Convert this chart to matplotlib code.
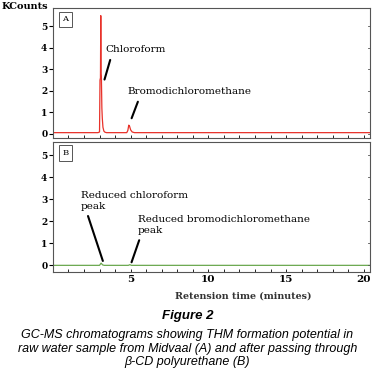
"""GC-MS chromatograms, THM formation potential (Figure 2 redraw)."""
import matplotlib
matplotlib.use("Agg")
import matplotlib.pyplot as plt
from matplotlib.ticker import MultipleLocator

# panel A: raw water (retention time in minutes, kilo counts)
time_a = [0.0, 2.9, 3.0, 3.03, 3.06, 3.08, 3.10, 3.12, 3.15, 3.18, 3.22, 3.28,
          3.35, 3.45, 4.75, 4.82, 4.88, 4.93, 5.0, 5.1, 5.25, 20.5]
counts_a = [0.05, 0.05, 0.08, 2.5, 2.6, 5.5, 2.8, 2.6, 1.2, 0.7, 0.3, 0.12,
            0.07, 0.05, 0.05, 0.15, 0.4, 0.35, 0.18, 0.08, 0.05, 0.05]

# panel B: after beta-CD polyurethane
time_b = [0.0, 3.0, 3.1, 3.2, 3.3, 4.85, 4.95, 5.05, 20.5]
counts_b = [0.0, 0.0, 0.1, 0.02, 0.0, 0.0, 0.03, 0.0, 0.0]

yticks = [0, 1, 2, 3, 4, 5]
xticks = [5, 10, 15, 20]

SERIF = "DejaVu Serif"
SANS = "Liberation Sans"

fig = plt.figure(figsize=(3.75, 3.70), dpi=100)
ax_a = fig.add_axes([0.141, 0.627, 0.846, 0.351])
ax_b = fig.add_axes([0.141, 0.265, 0.846, 0.351])

ax_a.plot(time_a, counts_a, color="#e8322a", lw=0.9)
ax_b.plot(time_b, counts_b, color="#6aa84f", lw=0.9)

for ax, lab, ylim in ((ax_a, "A", (-0.2, 5.85)), (ax_b, "B", (-0.3, 5.6))):
    ax.set_xlim(0, 20.4)
    ax.set_ylim(*ylim)
    ax.set_yticks(yticks)
    ax.set_yticklabels([str(v) for v in yticks], fontfamily=SERIF,
                       fontweight="bold", fontsize=6.5)
    ax.xaxis.set_minor_locator(MultipleLocator(1))
    ax.tick_params(axis="y", length=3, width=0.8, pad=1)
    ax.tick_params(axis="x", which="both", length=2, width=0.6, direction="in")
    # small inward marks on the right frame
    for v in yticks:
        ax.plot([20.25, 20.4], [v, v], color="#555555", lw=0.6, clip_on=False)
    for s in ax.spines.values():
        s.set_color("#555555")
        s.set_linewidth(0.8)
    ax.text(0.03, 0.945, lab, transform=ax.transAxes, fontsize=6,
            fontfamily=SERIF, va="top", ha="left",
            bbox=dict(boxstyle="square,pad=0.45", fc="white", ec="#555555", lw=0.7))

ax_a.set_xticks(xticks)
ax_a.set_xticklabels([])
ax_b.set_xticks(xticks)
ax_b.set_xticklabels([str(v) for v in xticks], fontfamily=SERIF,
                     fontweight="bold", fontsize=7.5)
ax_b.tick_params(axis="x", pad=2)

ax_b.set_xlabel("Retension time (minutes)", fontfamily=SERIF,
                fontweight="bold", fontsize=6.8, color="#333333")
ax_b.xaxis.set_label_coords(0.6, -0.15)

fig.text(0.005, 0.982, "KCounts", fontfamily=SERIF, fontweight="bold",
         fontsize=7, va="center", ha="left")

arrow = dict(arrowstyle="-", color="black", lw=1.5)
txt = dict(fontfamily=SERIF, fontsize=7.5)
ax_a.annotate("Chloroform", xy=(3.27, 2.4), xytext=(3.4, 3.9),
              arrowprops=dict(arrow, relpos=(0.1, 0.0)), va="center", **txt)
ax_a.annotate("Bromodichloromethane", xy=(5.0, 0.6), xytext=(4.8, 1.95),
              arrowprops=dict(arrow, relpos=(0.1, 0.0)), va="center", **txt)
ax_b.annotate("Reduced chloroform\npeak", xy=(3.27, 0.08), xytext=(1.8, 3.4),
              arrowprops=dict(arrow, relpos=(0.05, 0.0)), va="top", ha="left",
              linespacing=1.3, **txt)
ax_b.annotate("Reduced bromodichloromethane\npeak", xy=(5.0, 0.02), xytext=(5.45, 2.3),
              arrowprops=dict(arrow, relpos=(0.02, 0.0)), va="top", ha="left",
              linespacing=1.3, **txt)

fig.text(0.5, 0.146, "Figure 2", fontfamily=SANS, fontweight="bold",
         fontstyle="italic", fontsize=9.5, ha="center", va="center")
fig.text(0.5, 0.058, "GC-MS chromatograms showing THM formation potential in\n"
         "raw water sample from Midvaal (A) and after passing through\n"
         "\u03b2-CD polyurethane (B)", fontfamily=SANS, fontstyle="italic",
         fontsize=9, ha="center", va="center", linespacing=1.15)

fig.savefig("out.png", dpi=100)
